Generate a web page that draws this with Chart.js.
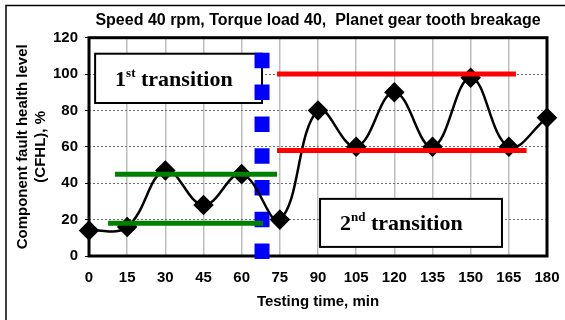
<!DOCTYPE html>
<html>
<head>
<meta charset="utf-8">
<script src="https://cdn.jsdelivr.net/npm/chart.js@4.4.0/dist/chart.umd.min.js"></script>
<style>
  html, body { margin: 0; padding: 0; background: #fff; }
</style>
</head>
<body>
<canvas id="chart" width="565" height="320"></canvas>
<script>
(() => {
  // testing time (min) and measured component fault health level (%)
  const timeMin = [0, 15, 30, 45, 60, 75, 90, 105, 120, 135, 150, 165, 180];
  const cfhl = [14, 16, 47, 28, 45, 20, 80, 60, 90, 60, 98, 60, 76];

  const xTicks = [0, 15, 30, 45, 60, 75, 90, 105, 120, 135, 150, 165, 180];
  const yTicks = [0, 20, 40, 60, 80, 100, 120];

  // level bands: [from, to, level]
  const firstBands = [[7.5, 68.4, 18], [10.2, 73.9, 45]];
  const secondBands = [[73.9, 172, 58], [73.9, 167.8, 100]];

  // boundary between the two transitions: time, top, bottom
  const boundaryTime = 68;
  const boundarySpan = [111.7, -3.3];

  const SANS = 'Arial, "Liberation Sans", sans-serif';
  const SERIF = '"Times New Roman", "Liberation Serif", serif';

  // text boxes, placed in axis units
  const notes = [
    { main: "1", sup: "st", rest: " transition", x0: 2.4, x1: 68, y0: 111.2, y1: 84.1 },
    { main: "2", sup: "nd", rest: " transition", x0: 90.8, x1: 162.3, y0: 31.4, y1: 5 },
  ];

  const bandDataset = (band, color) => ({
    data: [{ x: band[0], y: band[2] }, { x: band[1], y: band[2] }],
    borderColor: color,
    borderWidth: 5,
    borderCapStyle: "butt",
    pointRadius: 0,
    clip: false,
    order: 1,
  });

  const decor = {
    id: "decor",
    beforeDraw(chart) {
      const { ctx, width, height } = chart;
      ctx.save();
      ctx.fillStyle = "#fff";
      ctx.fillRect(0, 0, width, height);
      ctx.strokeStyle = "#000";
      ctx.lineWidth = 1.5;
      ctx.strokeRect(6, 5.5, width, height);
      ctx.restore();
    },
    beforeDatasetsDraw(chart) {
      const { ctx, chartArea: a, scales } = chart;
      ctx.save();
      ctx.strokeStyle = "#000";
      ctx.lineWidth = 3;
      ctx.strokeRect(a.left, a.top, a.width, a.height);

      notes.forEach((n) => {
        const l = scales.x.getPixelForValue(n.x0);
        const r = scales.x.getPixelForValue(n.x1);
        const t = scales.y.getPixelForValue(n.y0);
        const b = scales.y.getPixelForValue(n.y1);
        ctx.fillStyle = "#fff";
        ctx.fillRect(l, t, r - l, b - t);
        ctx.lineWidth = 2;
        ctx.strokeStyle = "#000";
        ctx.strokeRect(l, t, r - l, b - t);

        const base = (t + b) / 2 + 7.5;
        let x = l + 20;
        ctx.fillStyle = "#000";
        ctx.textBaseline = "alphabetic";
        ctx.textAlign = "left";
        ctx.font = `bold 22px ${SERIF}`;
        ctx.fillText(n.main, x, base);
        x += ctx.measureText(n.main).width;
        ctx.font = `bold 13px ${SERIF}`;
        ctx.fillText(n.sup, x, base - 9);
        x += ctx.measureText(n.sup).width;
        ctx.font = `bold 22px ${SERIF}`;
        ctx.fillText(n.rest, x, base);
      });
      ctx.restore();
    },
  };

  new Chart(document.getElementById("chart"), {
    type: "line",
    data: {
      datasets: [
        {
          data: [{ x: boundaryTime, y: boundarySpan[0] }, { x: boundaryTime, y: boundarySpan[1] }],
          borderColor: "#0000ff",
          borderWidth: 15,
          borderDash: [15.5, 16.3],
          borderCapStyle: "butt",
          pointRadius: 0,
          clip: false,
          order: 5,
        },
        {
          data: timeMin.map((t, i) => ({ x: t, y: cfhl[i] })),
          borderColor: "#000",
          borderWidth: 2.5,
          tension: 0.4,
          pointStyle: "rectRot",
          pointRadius: 8.5,
          pointBackgroundColor: "#000",
          pointBorderColor: "#000",
          clip: false,
          order: 3,
        },
        ...firstBands.map((b) => bandDataset(b, "#008000")),
        ...secondBands.map((b) => bandDataset(b, "#ff0000")),
      ],
    },
    options: {
      responsive: false,
      animation: false,
      events: [],
      layout: { autoPadding: false, padding: { left: 6, right: 18, top: 0, bottom: 9 } },
      plugins: {
        legend: { display: false },
        tooltip: { enabled: false },
        title: {
          display: true,
          fullSize: false,
          text: "Speed 40 rpm, Torque load 40,  Planet gear tooth breakage",
          color: "#000",
          font: { family: SANS, size: 16, weight: "bold", lineHeight: 1.2 },
          padding: { top: 10.5, bottom: 8 },
        },
      },
      scales: {
        x: {
          type: "linear",
          min: 0,
          max: 180,
          afterBuildTicks: (s) => { s.ticks = xTicks.map((v) => ({ value: v })); },
          afterFit: (s) => {
            s.height = 55;
            s.paddingLeft = 0;
            s.paddingRight = 0;
          },
          grid: { color: "#bdbdbd", lineWidth: 1.5, drawTicks: false },
          border: { display: false },
          ticks: {
            color: "#000",
            padding: 13,
            maxRotation: 0,
            autoSkip: false,
            font: { family: SANS, size: 15, weight: "bold" },
          },
          title: {
            display: true,
            text: "Testing time, min",
            color: "#000",
            font: { family: SANS, size: 15, weight: "bold", lineHeight: 1.2 },
            padding: 0,
          },
        },
        y: {
          min: 0,
          max: 120,
          afterBuildTicks: (s) => { s.ticks = yTicks.map((v) => ({ value: v })); },
          afterFit: (s) => {
            s.width = 83;
            s.paddingTop = 0;
            s.paddingBottom = 0;
          },
          grid: { color: "#6e6e6e", lineWidth: 1, tickLength: 4, tickColor: "#000" },
          border: { display: false, dash: [2, 2] },
          ticks: {
            color: "#000",
            padding: 7,
            font: { family: SANS, size: 15, weight: "bold" },
          },
          title: {
            display: true,
            text: ["Component fault health level", "(CFHL), %"],
            color: "#000",
            font: { family: SANS, size: 15, weight: "bold", lineHeight: 1.25 },
            padding: { top: 7, bottom: 0 },
          },
        },
      },
    },
    plugins: [decor],
  });
})();
</script>
</body>
</html>
